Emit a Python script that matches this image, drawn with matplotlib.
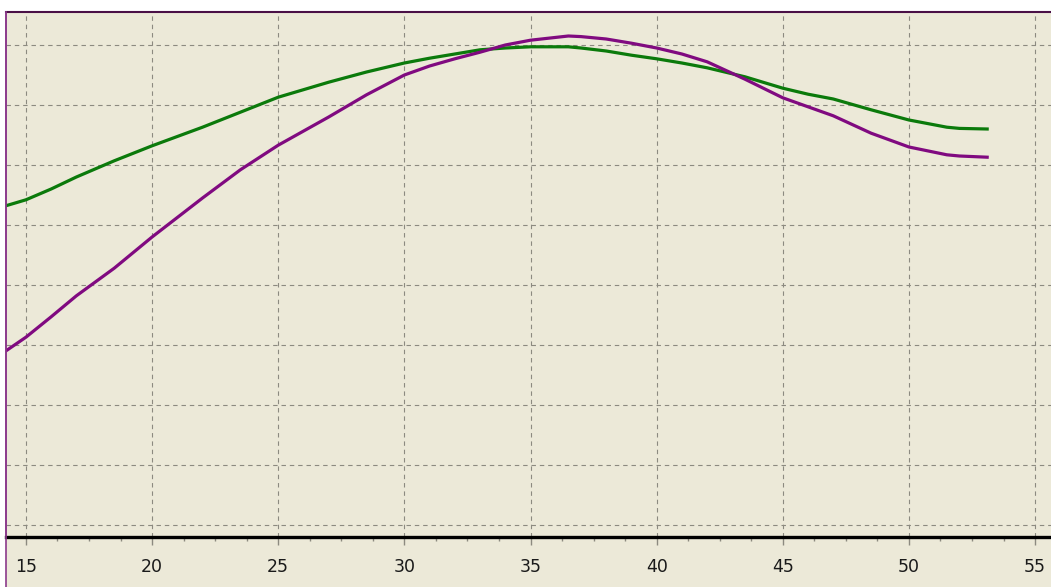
import numpy as np
import matplotlib
matplotlib.use("Agg")
import matplotlib.pyplot as plt
from matplotlib.patches import Rectangle
from matplotlib.lines import Line2D
from matplotlib.ticker import MultipleLocator

# values (y in grid units, no labels on that axis)
x_vals = [14.2, 15, 16, 17, 18.5, 20, 22, 23.5, 25, 27, 28.5, 30, 31, 32, 33, 34, 35, 36.5,
          37, 38, 39, 40, 41, 42, 43.5, 45, 46, 47, 48.5, 50, 51.5, 52, 53.1]
green_vals = [5.32, 5.42, 5.60, 5.80, 6.07, 6.32, 6.63, 6.88, 7.13, 7.38, 7.55, 7.70, 7.78,
              7.85, 7.92, 7.95, 7.97, 7.97, 7.95, 7.90, 7.83, 7.77, 7.70, 7.62, 7.47, 7.28,
              7.18, 7.10, 6.92, 6.75, 6.63, 6.61, 6.60]
purple_vals = [2.90, 3.13, 3.47, 3.82, 4.28, 4.80, 5.45, 5.92, 6.33, 6.80, 7.17, 7.50, 7.65,
               7.77, 7.88, 8.00, 8.08, 8.15, 8.14, 8.10, 8.03, 7.95, 7.85, 7.72, 7.43, 7.12,
               6.97, 6.82, 6.53, 6.30, 6.17, 6.15, 6.13]
x_ticks = [15, 20, 25, 30, 35, 40, 45, 50, 55]
y_grid = [0, 1, 2, 3, 4, 5, 6, 7, 8]

W, H = 1051, 587
BG = "#ECE9D8"
GRID = "#8C8A80"

fig = plt.figure(figsize=(W / 100, H / 100), dpi=100, facecolor="white")
fig.patches.append(Rectangle((6 / W, 0), 1 - 6 / W, 1 - 12 / H, transform=fig.transFigure,
                             facecolor=BG, edgecolor="none", zorder=-1))
fig.lines.append(Line2D([5.5 / W, 5.5 / W], [0, 1 - 12 / H], transform=fig.transFigure,
                        color="#8B3A8B", lw=1.2, zorder=5))

ax = fig.add_axes([6 / W, (H - 537) / H, (W - 6) / W, (537 - 12) / H])
ax.set_facecolor(BG)
ax.set_xlim(14.21, 55.63)
ax.set_ylim(-0.2, 8.55)

for xt in x_ticks:
    ax.axvline(xt, color=GRID, lw=0.8, linestyle=(0, (4, 3.5)), zorder=1)
for yg in y_grid:
    ax.axhline(yg, color=GRID, lw=0.8, linestyle=(0, (4, 3.5)), zorder=1)

ax.plot(x_vals, green_vals, color="#0B7A0B", lw=2.3, zorder=3, solid_joinstyle="round")
ax.plot(x_vals, purple_vals, color="#800A80", lw=2.3, zorder=3, solid_joinstyle="round")

ax.set_xticks(x_ticks)
ax.set_xticklabels([str(t) for t in x_ticks], fontsize=12.5, family="DejaVu Sans", color="#1A1A1A")
ax.xaxis.set_minor_locator(MultipleLocator(1.25))
ax.tick_params(axis="x", which="major", length=6, width=1, color=GRID, pad=9)
ax.tick_params(axis="x", which="minor", length=3, width=1, color=GRID)
ax.set_yticks([])

ax.spines["right"].set_visible(False)
ax.spines["left"].set_color("#8B3A8B")
ax.spines["left"].set_linewidth(1.2)
ax.spines["top"].set_color("#4A1046")
ax.spines["top"].set_linewidth(1.5)
ax.spines["bottom"].set_color("black")
ax.spines["bottom"].set_linewidth(2.4)
ax.spines["bottom"].set_zorder(4)

fig.savefig("out.png", dpi=100, facecolor="white")
